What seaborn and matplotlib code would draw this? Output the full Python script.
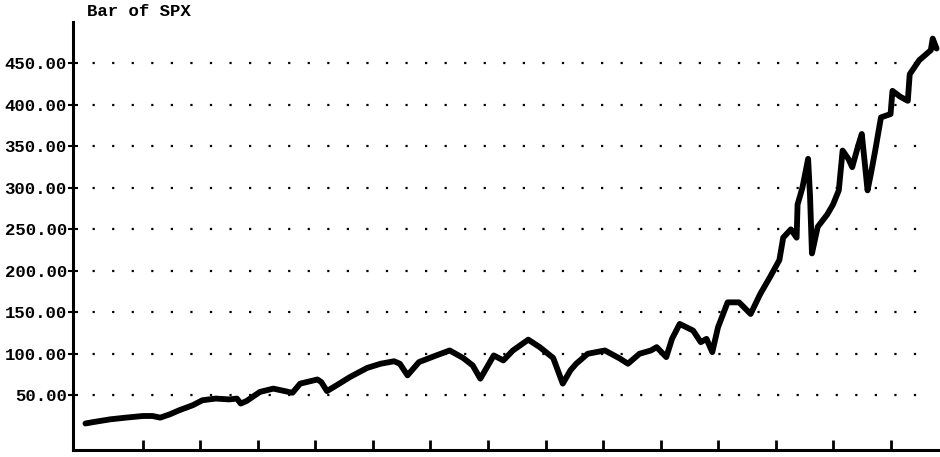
"""
Bar of SPX - long-run index chart, redrawn with seaborn.
"""

import matplotlib
matplotlib.use("Agg")
import matplotlib.pyplot as plt
import seaborn as sns
import pandas as pd

# Dados (ano decimal, nível do índice)
years = [
    1950.0, 1950.5, 1951.3, 1952.1, 1953.0, 1953.5, 1953.9, 1954.4, 1954.9, 1955.6,
    1956.1, 1956.8, 1957.5, 1957.9, 1958.1, 1958.4, 1959.1, 1959.8, 1960.4, 1960.8,
    1961.2, 1962.1, 1962.3, 1962.6, 1963.1, 1963.8, 1964.7, 1965.4, 1966.1, 1966.4,
    1966.8, 1967.4, 1968.3, 1969.0, 1969.7, 1970.2, 1970.6, 1971.3, 1971.8, 1972.3,
    1973.1, 1973.7, 1974.4, 1974.9, 1975.3, 1975.6, 1976.2, 1977.1, 1977.9, 1978.3,
    1978.9, 1979.5, 1979.8, 1980.3, 1980.6, 1981.0, 1981.7, 1982.1, 1982.4, 1982.7,
    1983.0, 1983.5, 1984.1, 1984.7, 1985.2, 1985.7, 1986.2, 1986.4, 1986.8, 1987.1,
    1987.15, 1987.4, 1987.7, 1987.8, 1987.9, 1988.2, 1988.7, 1989.0, 1989.3, 1989.5,
    1989.8, 1990.0, 1990.3, 1990.5, 1990.7, 1990.8, 1991.0, 1991.2, 1991.5, 1992.0,
    1992.1, 1992.5, 1992.9, 1993.0, 1993.5, 1994.1, 1994.2, 1994.4,
]
spx = [
    16, 18, 21, 23, 25, 25, 23, 27, 32, 38,
    44, 46, 45, 46, 40, 43, 54, 58, 55, 53,
    64, 69, 66, 55, 62, 72, 83, 88, 91, 88,
    74, 90, 98, 104, 95, 86, 70, 98, 92, 104,
    117, 108, 95, 64, 80, 88, 100, 104, 94, 88,
    100, 104, 108, 96, 118, 136, 128, 114, 118, 102,
    132, 162, 162, 148, 172, 192, 213, 240, 250, 240,
    280, 300, 335, 290, 221, 253, 268, 280, 297, 345,
    335, 325, 350, 365, 320, 297, 320, 345, 385, 389,
    417, 410, 405, 437, 454, 466, 480, 468,
]
y_ticks = [50, 100, 150, 200, 250, 300, 350, 400, 450]
x_ticks = [1953, 1956, 1959, 1962, 1965, 1968, 1971, 1974, 1977, 1980, 1983, 1986, 1989, 1992]

sns.set_style("white")
plt.rcParams['font.family'] = ['Liberation Mono', 'DejaVu Sans Mono']

df = pd.DataFrame({'ano': years, 'spx': spx})

fig = plt.figure(figsize=(9.40, 4.57), dpi=100)
ax = fig.add_axes([73 / 940, 7 / 457, 1 - 73 / 940, (450 - 22) / 457])

# Grade pontilhada horizontal
for yv in y_ticks:
    ax.axhline(yv, xmin=0, xmax=0.977, color='black', lw=1.6,
               dashes=(1, 7.8), zorder=1)

sns.lineplot(data=df, x='ano', y='spx', ax=ax, color='black', lw=4.2,
             estimator=None, sort=False, zorder=3)

ax.set_xlim(1949.35, 1994.58)
ax.set_ylim(-16, 500)
ax.set_xticks(x_ticks)
ax.set_xticklabels([])
ax.set_yticks(y_ticks)
ax.set_yticklabels([f"{v:.2f}" for v in y_ticks])
ax.set_xlabel('')
ax.set_ylabel('')

for side in ['top', 'right']:
    ax.spines[side].set_visible(False)
for side in ['left', 'bottom']:
    ax.spines[side].set_linewidth(2.2)
    ax.spines[side].set_color('black')

ax.tick_params(axis='x', bottom=True, direction='in', length=7, width=2,
               colors='black')
ax.tick_params(axis='y', left=True, direction='inout', length=7, width=1.5,
               pad=1, labelsize=12.5, labelcolor='black', color='black')
for lbl in ax.get_yticklabels():
    lbl.set_fontweight('bold')

fig.text(87 / 940, 1 - 12 / 457, 'Bar of SPX', fontsize=12.5, fontweight='bold',
         va='center', ha='left', color='black')

plt.savefig('out.png', dpi=100)
plt.close()
